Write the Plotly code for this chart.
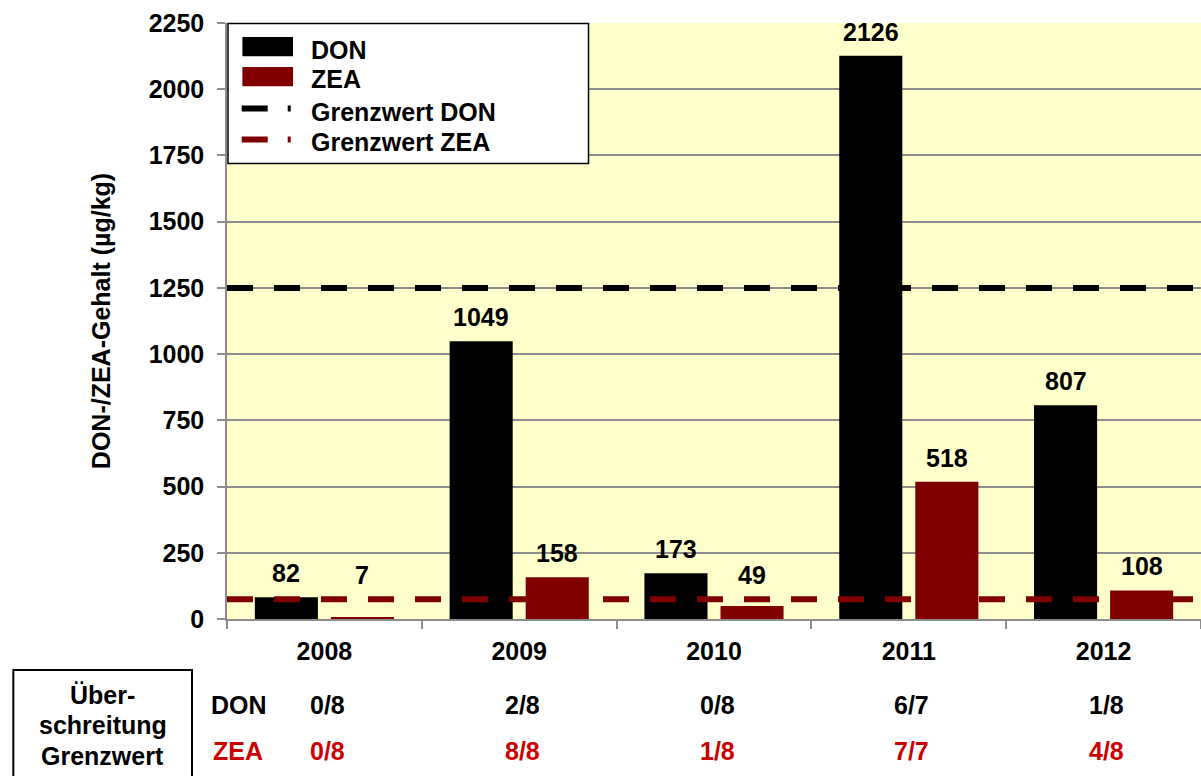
import plotly.graph_objects as go

# ---------------- data ----------------
years = ["2008", "2009", "2010", "2011", "2012"]
don = [82, 1049, 173, 2126, 807]
zea = [7, 158, 49, 518, 108]
limit_don = 1250
limit_zea = 75
exceed_don = ["0/8", "2/8", "0/8", "6/7", "1/8"]
exceed_zea = ["0/8", "8/8", "1/8", "7/7", "4/8"]
y_ticks = [0, 250, 500, 750, 1000, 1250, 1500, 1750, 2000, 2250]

# ---------------- style ----------------
FONT = "Liberation Sans, Arial, Helvetica, sans-serif"
FS = 25
DARK_RED = "#800000"
TXT_RED = "#CC0000"
GRID = "#8C8C8C"
W, H = 1201, 776
L, R, T, B = 227.3, 1201.0, 22.7, 619.3


def px(x):
    return (x - L) / (R - L)


def py(y):
    return (B - y) / (B - T)


fig = go.Figure()
fig.add_trace(go.Bar(x=years, y=don, name="DON", marker=dict(color="black", line=dict(width=0)),
                     showlegend=False))
fig.add_trace(go.Bar(x=years, y=zea, name="ZEA", marker=dict(color=DARK_RED, line=dict(width=0)),
                     showlegend=False))

annotations = []
# value labels above bars (kept above the low limit line when the bar is below it)
for series, shift in [(don, -38), (zea, 38)]:
    for i, v in enumerate(series):
        annotations.append(dict(x=i, y=max(v, limit_zea), xref="x", yref="y", xshift=shift, yshift=8,
                                text=str(v), showarrow=False, yanchor="bottom",
                                font=dict(family=FONT, size=FS, color="black", weight="bold")))

shapes = []
# limit lines
for val, col in [(limit_don, "black"), (limit_zea, DARK_RED)]:
    shapes.append(dict(type="line", xref="paper", yref="y", x0=0, x1=1, y0=val, y1=val,
                       line=dict(color=col, width=6, dash="26px,21px"), layer="above"))

# custom legend
shapes.append(dict(type="rect", xref="paper", yref="paper", x0=px(228.3), x1=px(588.7),
                   y0=py(163.3), y1=py(23.3), fillcolor="white",
                   line=dict(color="black", width=1.5), layer="above"))
shapes.append(dict(type="rect", xref="paper", yref="paper", x0=px(242.7), x1=px(293.3),
                   y0=py(56), y1=py(36.7), fillcolor="black", line=dict(width=0), layer="above"))
shapes.append(dict(type="rect", xref="paper", yref="paper", x0=px(242.7), x1=px(293.3),
                   y0=py(86), y1=py(66.7), fillcolor=DARK_RED, line=dict(width=0), layer="above"))
for yy, col in [(108.3, "black"), (139.3, DARK_RED)]:
    shapes.append(dict(type="line", xref="paper", yref="paper", x0=px(242), x1=px(291),
                       y0=py(yy), y1=py(yy), line=dict(color=col, width=6, dash="26px,20px"),
                       layer="above"))
legend_items = [("DON", 49.3), ("ZEA", 78.3), ("Grenzwert DON", 111.7), ("Grenzwert ZEA", 141.7)]
for txt, yy in legend_items:
    annotations.append(dict(x=px(309.3), y=py(yy), xref="paper", yref="paper", text=txt,
                            showarrow=False, xanchor="left", yanchor="middle",
                            font=dict(family=FONT, size=FS, color="black", weight="bold")))

# bottom table
shapes.append(dict(type="rect", xref="paper", yref="paper", x0=px(13.7), x1=px(192.3),
                   y0=py(790), y1=py(670.3), fillcolor="rgba(0,0,0,0)",
                   line=dict(color="black", width=2), layer="above"))
for txt, yy in [("Über-", 695.8), ("schreitung", 725.5), ("Grenzwert", 756.0)]:
    annotations.append(dict(x=px(103), y=py(yy), xref="paper", yref="paper", text=txt,
                            showarrow=False, xanchor="center", yanchor="middle",
                            font=dict(family=FONT, size=FS, color="black", weight="bold")))
annotations.append(dict(x=px(239), y=py(705.7), xref="paper", yref="paper", text="DON",
                        showarrow=False, xanchor="center", yanchor="middle",
                        font=dict(family=FONT, size=FS, color="black", weight="bold")))
annotations.append(dict(x=px(238.5), y=py(751.7), xref="paper", yref="paper", text="ZEA",
                        showarrow=False, xanchor="center", yanchor="middle",
                        font=dict(family=FONT, size=FS, color=TXT_RED, weight="bold")))
for i, (d, z) in enumerate(zip(exceed_don, exceed_zea)):
    annotations.append(dict(x=i, y=py(705.7), xref="x", yref="paper", text=d, xshift=3,
                            showarrow=False, xanchor="center", yanchor="middle",
                            font=dict(family=FONT, size=FS, color="black", weight="bold")))
    annotations.append(dict(x=i, y=py(751.7), xref="x", yref="paper", text=z, xshift=3,
                            showarrow=False, xanchor="center", yanchor="middle",
                            font=dict(family=FONT, size=FS, color=TXT_RED, weight="bold")))

fig.update_layout(
    width=W, height=H,
    margin=dict(l=L, r=0, t=T, b=H - B, autoexpand=False),
    paper_bgcolor="white",
    plot_bgcolor="#FFFFCC",
    barmode="group",
    bargap=0.219,
    bargroupgap=0.171,
    showlegend=False,
    shapes=shapes,
    annotations=annotations,
    font=dict(family=FONT, size=FS, color="black", weight="bold"),
)
fig.update_xaxes(
    type="category", range=[-0.5, len(years) - 0.5], autorange=False,
    showgrid=False, showline=True, linecolor=GRID, linewidth=1.5,
    ticks="outside", tickson="boundaries", ticklen=8, tickcolor=GRID, tickwidth=1.5,
    tickfont=dict(family=FONT, size=FS, color="black", weight="bold"),
    ticklabelstandoff=9, tickangle=0, fixedrange=True,
)
fig.update_yaxes(
    range=[0, 2250], autorange=False, tickvals=y_ticks, showgrid=True, gridcolor=GRID, gridwidth=1.5,
    showline=True, linecolor=GRID, linewidth=1.5, zeroline=False,
    ticks="outside", ticklen=8, tickcolor=GRID, tickwidth=1.5,
    tickfont=dict(family=FONT, size=FS, color="black", weight="bold"),
    ticklabelstandoff=8,
    title=dict(text="DON-/ZEA-Gehalt (µg/kg)", standoff=31,
               font=dict(family=FONT, size=FS, color="black", weight="bold")),
    fixedrange=True,
)

fig.write_html("out.html", config={"displayModeBar": False},
               post_script="document.body.style.margin='0px';document.body.style.overflow='hidden';")
